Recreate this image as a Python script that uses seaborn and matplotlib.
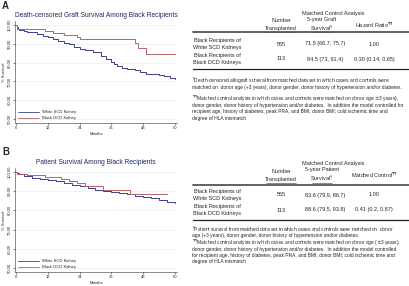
import pandas as pd
import matplotlib.pyplot as plt
import seaborn as sns
from matplotlib.lines import Line2D

# panel A: death-censored graft survival (month, % survival)
graft_white_m = [0, 0.3, 0.7, 1, 2, 3, 4, 6, 8, 10, 12, 14, 16, 18, 20, 22, 24, 26, 27, 29, 32, 34, 36, 37, 38, 40, 42, 45, 47, 49, 51, 54, 56, 58, 60]
graft_white_s = [100, 98.8, 98, 97.5, 97, 96.7, 96.4, 96, 95, 94, 93.3, 92.5, 91.5, 90.5, 89.8, 88.5, 87.3, 86.9, 86.5, 85.5, 83.3, 81.8, 80.5, 79.5, 78.2, 77.2, 76.8, 76, 75, 74.2, 73.8, 73.3, 72.7, 72, 71.5]
graft_black_m = [0, 0.3, 11, 14, 18, 23, 24, 45, 46, 49, 60]
graft_black_s = [100, 97.8, 96.9, 95.6, 94.5, 93.3, 92.4, 90.5, 87.8, 84.5, 84.5]

# panel B: patient survival
pat_white_m = [0, 0.5, 1, 3, 6, 9, 12, 15, 18, 21, 24, 27, 30, 33, 36, 39, 42, 45, 48, 51, 54, 57, 60]
pat_white_s = [100, 99.2, 98.8, 97.8, 97, 96.4, 95.8, 95, 94.2, 93.3, 92.5, 91.6, 90.8, 90.3, 89.7, 89, 88.3, 87.6, 87, 86.2, 85.5, 84.5, 83.6]
pat_black_m = [0, 0.5, 4, 11, 17, 20, 23, 26, 33, 43, 57]
pat_black_s = [100, 99, 98.5, 97.5, 96.3, 95.3, 94.2, 92.5, 90.5, 88.6, 88.6]

groups = ['White SCD Kidney', 'Black DCD Kidney']
colors = ['#3b3f8c', '#b8626a']

rows = [['Black Recipients of', 'White SCD Kidneys'], ['Black Recipients of', 'Black DCD Kidneys']]
n_tx = ['565', '113']
graft_surv = ['71.5 (66.7, 75.7)', '84.5 (73, 91.4)']
graft_hr = ['1.00', '0.30 (0.14, 0.65)']
pat_surv = ['83.6 (79.9, 86.7)', '88.6 (79.5, 93.8)']
pat_hr = ['1.00', '0.41 (0.2, 0.87)']

sns.set_theme(style='white')
plt.rcParams['font.family'] = ['Liberation Sans', 'DejaVu Sans']

W, H = 409, 286
fig = plt.figure(figsize=(W / 100, H / 100), dpi=100)


def km_panel(top_px, bot_px, title, white, black):
    ax = fig.add_axes([15 / W, 1 - bot_px / H, (177 - 15) / W, (bot_px - top_px) / H])
    d = pd.concat([
        pd.DataFrame({'month': white[0], 'surv': white[1], 'grp': groups[0]}),
        pd.DataFrame({'month': black[0], 'surv': black[1], 'grp': groups[1]}),
    ])
    sns.lineplot(data=d, x='month', y='surv', hue='grp', palette=colors, estimator=None,
                 sort=False, drawstyle='steps-post', lw=0.7, ax=ax)
    ax.set_xlim(-0.4, 60.8)
    ax.set_ylim(48, 102)
    ax.set_xticks(range(0, 61, 12))
    ax.set_yticks(range(50, 101, 10))
    ax.set_yticklabels([f'{v:.2f}' for v in range(50, 101, 10)], rotation=90, va='center')
    ax.tick_params(labelsize=3, length=1.5, width=0.4, pad=1, left=True, bottom=True)
    ax.grid(axis='y', color='#eaeef2', lw=0.5)
    for s in ['top', 'right']:
        ax.spines[s].set_visible(False)
    for s in ['left', 'bottom']:
        ax.spines[s].set_linewidth(0.4)
        ax.spines[s].set_color('#333333')
    ax.set_xlabel('Months', fontsize=3, labelpad=1)
    ax.set_ylabel('% Survival', fontsize=3, labelpad=1)
    ax.set_title(title, fontsize=4.8, color='#1c2a5c', pad=3)
    ax.legend(handles=[Line2D([], [], color=c, lw=0.6) for c in colors], labels=groups,
              loc='lower left', frameon=False, fontsize=3, handlelength=5, borderaxespad=0.3,
              labelspacing=0.5)
    return ax


km_panel(21, 123, 'Death-censored Graft Survival Among Black Recipients',
         (graft_white_m, graft_white_s), (graft_black_m, graft_black_s))
km_panel(168, 272, 'Patient Survival Among Black Recipients',
         (pat_white_m, pat_white_s), (pat_black_m, pat_black_s))

# overlay in pixel coordinates for letters and tables
ov = fig.add_axes([0, 0, 1, 1])
ov.set_xlim(0, W)
ov.set_ylim(H, 0)
ov.axis('off')
ov.patch.set_alpha(0)
ov.text(2, 6, 'A', fontsize=7, fontweight='bold', va='center')
ov.text(2, 152, 'B', fontsize=7, fontweight='bold', va='center')

fs = 4.0
ffs = 3.55


def table(head3, head4, surv, hr, notes, ys):
    ytitle, ynum, ytop, yr1, yr2, ybot = ys
    ov.text(333, ytitle, 'Matched Control Analysis', fontsize=fs, ha='center', va='center')
    ov.text(281, ynum, 'Number', fontsize=fs, ha='center', va='center')
    ov.text(281, ynum + 7.5, 'Transplanted', fontsize=fs, ha='center', va='center')
    ov.plot([266, 296], [ynum + 11, ynum + 11], color='#333333', lw=0.4)
    ov.text(322, ynum - 1.5, head3, fontsize=fs, ha='center', va='center')
    ov.text(322, ynum + 7, r'Survival$^{\S}$', fontsize=fs, ha='center', va='center')
    ov.plot([312, 332], [ynum + 11, ynum + 11], color='#333333', lw=0.4)
    ov.text(374, ynum + 4, head4, fontsize=fs, ha='center', va='center')
    ov.plot([193, 409], [ytop, ytop], color='#555555', lw=1.3)
    for yr, lab, n, s, h in zip([yr1, yr2], rows, n_tx, surv, hr):
        ov.text(217, yr - 3.5, lab[0], fontsize=fs, ha='center', va='center')
        ov.text(217, yr + 3.5, lab[1], fontsize=fs, ha='center', va='center')
        ov.text(281, yr, n, fontsize=fs, ha='center', va='center')
        ov.text(325, yr, s, fontsize=fs, ha='center', va='center')
        ov.text(374, yr, h, fontsize=fs, ha='center', va='center')
    ov.plot([193, 409], [ybot, ybot], color='#222222', lw=0.9)
    for y, t in notes:
        ov.text(192, y, t, fontsize=ffs, ha='left', va='center')


table('5-year Graft', r'Hazard Ratio$^{\P\P}$', graft_surv, graft_hr, [
    (81, r'$^{\S}$Death-censored allograft survival from matched data set in which cases and controls were'),
    (87.5, 'matched on  donor age (+3 years), donor gender, donor history of hypertension and/or diabetes.'),
    (99, r'$^{\P\P}$Matched control analysis in which cases and controls were matched on donor age $\pm$3 years),'),
    (105.5, 'donor gender, donor history of hypertension and/or diabetes.  In addition the model controlled for'),
    (112, 'recipient age, history of diabetes, peak PRA, and BMI; donor BMI; cold ischemic time and'),
    (118.5, 'degree of HLA mismatch'),
], (14, 21, 32, 44, 59, 69))

table('5-year Patient', r'Matched Control$^{\P\P}$', pat_surv, pat_hr, [
    (229, r'$^{\S}$Patient survival from matched data set in which cases and controls were matched on  donor'),
    (235, 'age (+3 years), donor gender, donor history of hypertension and/or diabetes.'),
    (242.5, r'$^{\P\P}$Matched control analysis in which cases and controls were matched on donor age ($\pm$3 years),'),
    (249, 'donor gender, donor history of hypertension and/or diabetes.  In addition the model controlled'),
    (255.5, 'for recipient age, history of diabetes, peak PRA, and BMI; donor BMI; cold ischemic time and'),
    (262, 'degree of HLA mismatch'),
], (164, 171.5, 185, 195, 210, 220))

fig.savefig('out.png', dpi=100)
